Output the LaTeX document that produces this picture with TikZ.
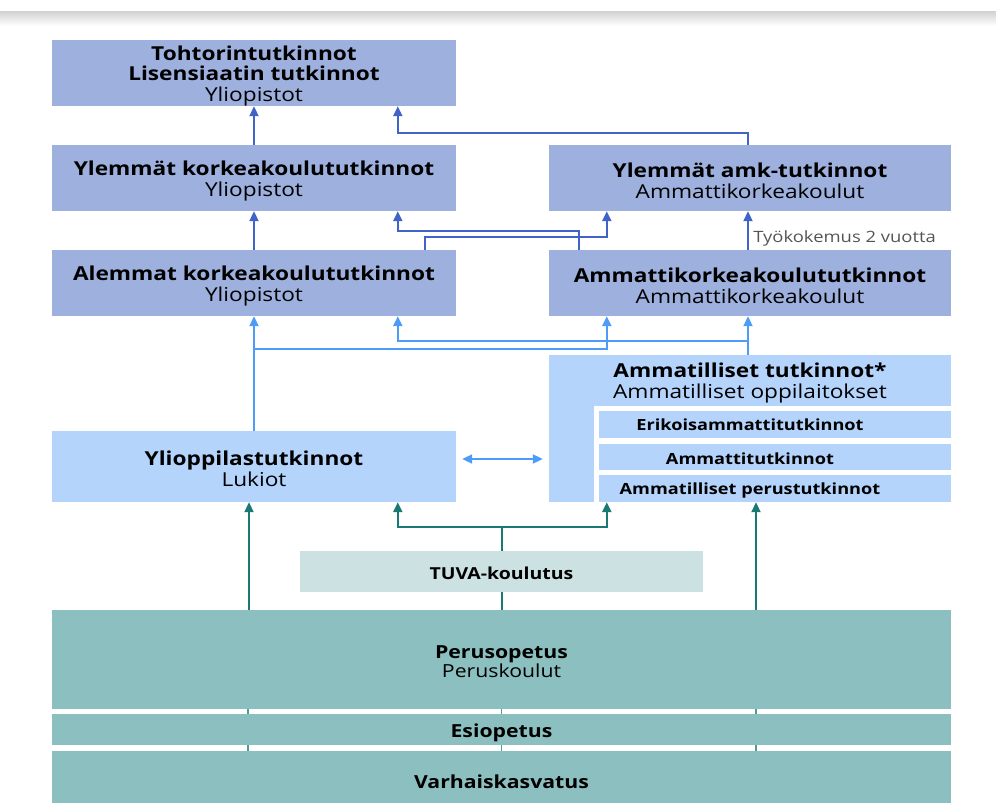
\documentclass[tikz,border=0pt]{standalone}
\usepackage{fontspec}
\setmainfont{Open Sans}[FakeStretch=1.18]
\usetikzlibrary{arrows.meta,calc,backgrounds}
\definecolor{boxdark}{RGB}{157,176,222}
\definecolor{boxlight}{RGB}{180,212,252}
\definecolor{arrdark}{RGB}{63,99,198}
\definecolor{arrlight}{RGB}{77,156,248}
\definecolor{arrteal}{RGB}{24,122,114}
\definecolor{tuvafill}{RGB}{204,225,226}
\definecolor{tealfill}{RGB}{140,191,191}
\definecolor{notegray}{RGB}{85,85,85}
\begin{document}
\begin{tikzpicture}[x=1pt,y=1pt,
  box/.style={inner sep=0pt},
  darkbox/.style={box,fill=boxdark},
  lightbox/.style={box,fill=boxlight},
  tealbox/.style={box,fill=tealfill},
  txt/.style={inner sep=0pt,align=center,text=black,font=\fontsize{19.2}{20.5}\selectfont},
  subtext/.style={txt,font=\fontsize{15.4}{17}\selectfont\bfseries},
  tealtext/.style={txt,font=\fontsize{18}{19.5}\selectfont},
  tip/.style={-{Triangle[length=10pt,width=9pt]}},
  darr/.style={draw=arrdark,line width=2pt,tip},
  larr/.style={draw=arrlight,line width=2pt,tip},
  tarr/.style={draw=arrteal,line width=2pt,tip},
  tline/.style={draw=arrteal,line width=2pt},
  gapline/.style={draw=arrteal!75,line width=1.2pt}]
\useasboundingbox (0,0) rectangle (996,-803);
% top shadow
\shade[top color=black!18,bottom color=white] (0,-11) rectangle (996,-26);
% higher education
\node[darkbox,minimum width=404,minimum height=66] (toh) at (254,-73) {};
\node[txt] (tohT) at ([yshift=-3pt]toh.center)
  {\textbf{Tohtorintutkinnot}\\\textbf{Lisensiaatin tutkinnot}\\Yliopistot};
\node[darkbox,minimum width=404,minimum height=66] (yk) at (254,-178) {};
\node[txt] (ykT) at ([yshift=-3pt]yk.center) {\textbf{Ylemmät korkeakoulututkinnot}\\Yliopistot};
\node[darkbox,minimum width=402,minimum height=66] (yamk) at (750,-178) {};
\node[txt] (yamkT) at ([yshift=-3pt]yamk.center) {\textbf{Ylemmät amk-tutkinnot}\\Ammattikorkeakoulut};
\node[darkbox,minimum width=404,minimum height=66] (ak) at (254,-283) {};
\node[txt] (akT) at ([yshift=-3pt]ak.center) {\textbf{Alemmat korkeakoulututkinnot}\\Yliopistot};
\node[darkbox,minimum width=402,minimum height=66] (amk) at (750,-283) {};
\node[txt] (amkT) at ([yshift=-3pt]amk.center) {\textbf{Ammattikorkeakoulututkinnot}\\Ammattikorkeakoulut};
% secondary
\node[lightbox,minimum width=404,minimum height=71] (ylio) at (254,-466.5) {};
\node[txt] (ylioT) at ([yshift=-2.5pt]ylio.center) {\textbf{Ylioppilastutkinnot}\\Lukiot};
\node[lightbox,minimum width=402,minimum height=51] (amt) at (750,-380.5) {};
\node[txt] (amtT) at ([yshift=-2.5pt]amt.center) {\textbf{Ammatilliset tutkinnot*}\\Ammatilliset oppilaitokset};
\node[lightbox,minimum width=45,minimum height=147] (amcol) at (571.5,-428.5) {};
\node[lightbox,minimum width=352,minimum height=27] (sub1) at (775,-424.5) {};
\node[lightbox,minimum width=352,minimum height=26] (sub2) at (775,-456.5) {};
\node[lightbox,minimum width=352,minimum height=27] (sub3) at (775,-488.5) {};
\node[subtext] (t1) at (750,-425) {Erikoisammattitutkinnot};
\node[subtext] (t2) at (750,-458.5) {Ammattitutkinnot};
\node[subtext] (t3) at (750,-490.5) {Ammatilliset perustutkinnot};
% basic
\node[box,fill=tuvafill,minimum width=403,minimum height=41] (tuva) at (501.5,-571.5) {};
\node[txt,font=\fontsize{16.5}{18}\selectfont\bfseries] (tuvaT) at ([yshift=-2pt]tuva.center) {TUVA-koulutus};
\node[tealbox,minimum width=899,minimum height=99] (perus) at (501.5,-659.5) {};
\node[tealtext] (perusT) at ([yshift=-2pt]perus.center) {\textbf{Perusopetus}\\Peruskoulut};
\node[tealbox,minimum width=899,minimum height=31] (esi) at (501.5,-729.5) {};
\node[tealtext] (esiT) at ([yshift=-3.5pt]esi.center) {\textbf{Esiopetus}};
\node[tealbox,minimum width=899,minimum height=52] (varh) at (501.5,-777) {};
\node[tealtext] (varhT) at ([yshift=-4.5pt]varh.center) {\textbf{Varhaiskasvatus}};
% lines through the gaps
\begin{scope}[on background layer]
\foreach \dx in {-253.5,0,254.5} {
  \draw[gapline] ($(varh.north)+(\dx,0)$) -- ($(perus.south)+(\dx,0)$);
}
\end{scope}
% dark blue connectors
\draw[darr] (yk.north) -- (toh.south);
\draw[darr] ([xshift=-2pt]yamk.north) -- ++(0,12) -| ([xshift=346pt]toh.south west);
\draw[darr] (ak.north) -- (yk.south);
\draw[darr] ([xshift=373pt]ak.north west) -- ++(0,13) -| ([xshift=58pt]yamk.south west);
\draw[darr] ([xshift=30pt]amk.north west) -- ++(0,19) -| ([xshift=346pt]yk.south west);
\draw[darr] ([xshift=-2pt]amk.north) -- ([xshift=-2pt]yamk.south)
  node[pos=0.3,right=1pt,text=notegray,font=\fontsize{15.6}{17}\selectfont] (note) {Työkokemus 2 vuotta};
% light blue connectors
\draw[larr] (ylio.north) -- (ak.south);
\draw[larr] (ylio.north) -- ++(0,82) -| ([xshift=58pt]amk.south west);
\draw[larr] ([xshift=-2pt]amt.north) -- ([xshift=-2pt]amk.south);
\draw[larr] ([xshift=-2pt]amt.north) -- ++(0,14) -| ([xshift=346pt]ak.south west);
\coordinate (da) at ($(ylio.east)+(6,7.5)$);
\coordinate (db) at ($(amcol.west |- da)+(-6,0)$);
\draw[draw=arrlight,line width=2pt,{Triangle[length=10pt,width=9pt]}-{Triangle[length=10pt,width=9pt]}] (da) -- (db);
% teal connectors
\coordinate (tl) at ($(ylio.south)+(-5,0)$);
\coordinate (tr) at ($(amcol.south)+(184.5,0)$);
\draw[tarr] (perus.north -| tl) -- (tl);
\draw[tarr] (perus.north -| tr) -- (tr);
\draw[tline] (perus.north -| tuva.south) -- (tuva.south);
\draw[tarr] (tuva.north) -- ++(0,24) -| ([xshift=346pt]ylio.south west);
\draw[tarr] (tuva.north) -- ++(0,24) -| ([xshift=8pt]sub3.south west);
\end{tikzpicture}
\end{document}
